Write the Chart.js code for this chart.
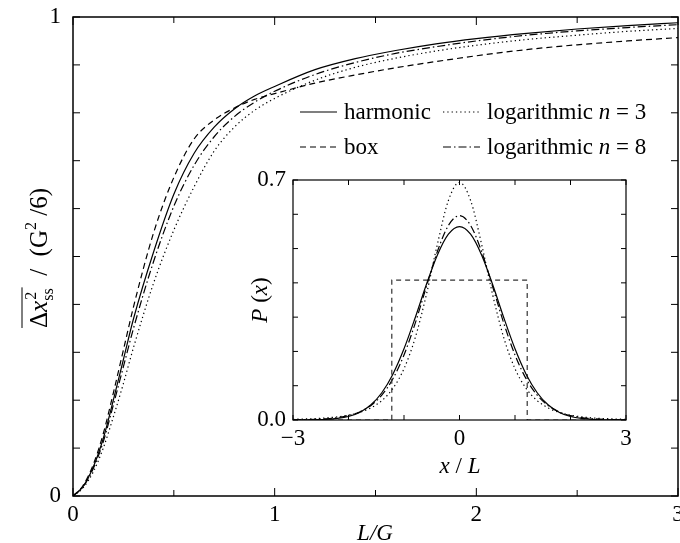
<!DOCTYPE html>
<html>
<head>
<meta charset="utf-8">
<script src="https://cdn.jsdelivr.net/npm/chart.js@4"></script>
<style>
  html, body { margin: 0; padding: 0; background: #fff; }
  #wrap { position: relative; width: 680px; height: 543px; }
  #main { position: absolute; left: 0; top: 0; width: 680px; height: 543px; }
  #inset { position: absolute; left: 230px; top: 160px; width: 420px; height: 320px; }
</style>
</head>
<body>
<div id="wrap">
  <canvas id="main" width="680" height="543"></canvas>
  <canvas id="inset" width="420" height="320"></canvas>
</div>
<script>
// main panel: L/G on x
const lg = [0, 0.05, 0.1, 0.15, 0.2, 0.25, 0.3, 0.4, 0.5, 0.6, 0.7, 0.8, 0.9, 1.0, 1.2, 1.4, 1.6, 1.8, 2.0, 2.25, 2.5, 2.75, 3.0];
const harmonic = [0, 0.02, 0.06, 0.12, 0.2, 0.285, 0.37, 0.51, 0.63, 0.715, 0.77, 0.808, 0.835, 0.855, 0.89, 0.913, 0.93, 0.944, 0.955, 0.966, 0.975, 0.982, 0.988];
const box = [0, 0.022, 0.065, 0.13, 0.215, 0.305, 0.395, 0.55, 0.665, 0.745, 0.785, 0.81, 0.828, 0.84, 0.862, 0.879, 0.894, 0.907, 0.919, 0.932, 0.942, 0.95, 0.957];
const log3 = [0, 0.017, 0.05, 0.1, 0.165, 0.235, 0.31, 0.445, 0.555, 0.645, 0.72, 0.77, 0.805, 0.83, 0.868, 0.895, 0.914, 0.929, 0.941, 0.953, 0.962, 0.97, 0.976];
const log8 = [0, 0.019, 0.057, 0.113, 0.19, 0.27, 0.35, 0.49, 0.605, 0.69, 0.75, 0.792, 0.822, 0.845, 0.88, 0.905, 0.924, 0.938, 0.95, 0.962, 0.971, 0.978, 0.984];

// inset: P(x) against x/L
const xL = [-3, -2.8, -2.6, -2.4, -2.2, -2, -1.8, -1.6, -1.4, -1.2, -1, -0.8, -0.6, -0.4, -0.2, 0, 0.2, 0.4, 0.6, 0.8, 1, 1.2, 1.4, 1.6, 1.8, 2, 2.2, 2.4, 2.6, 2.8, 3];
const pHarmonic = [0.0001, 0.0002, 0.0007, 0.0018, 0.0045, 0.0103, 0.0221, 0.0436, 0.0795, 0.1337, 0.2076, 0.2975, 0.3936, 0.4808, 0.5421, 0.5642, 0.5421, 0.4808, 0.3936, 0.2975, 0.2076, 0.1337, 0.0795, 0.0436, 0.0221, 0.0103, 0.0045, 0.0018, 0.0007, 0.0002, 0.0001];
const pLog3 = [0.0020, 0.0029, 0.0042, 0.0061, 0.0092, 0.0141, 0.0220, 0.0349, 0.0565, 0.0920, 0.1497, 0.2387, 0.3635, 0.5113, 0.6404, 0.6930, 0.6404, 0.5113, 0.3635, 0.2387, 0.1497, 0.0920, 0.0565, 0.0349, 0.0220, 0.0141, 0.0092, 0.0061, 0.0042, 0.0029, 0.0020];
const pLog8 = [0.0006, 0.0011, 0.0020, 0.0037, 0.0069, 0.0129, 0.0234, 0.0418, 0.0724, 0.1202, 0.1897, 0.2812, 0.3872, 0.4906, 0.5674, 0.5960, 0.5674, 0.4906, 0.3872, 0.2812, 0.1897, 0.1202, 0.0724, 0.0418, 0.0234, 0.0129, 0.0069, 0.0037, 0.0020, 0.0011, 0.0006];
const boxX = [-3, -1.22, -1.22, 1.22, 1.22, 3];
const boxP = [0, 0, 0.408, 0.408, 0, 0];

const FONT = '"Liberation Serif", "Times New Roman", serif';
const FS = 23;
const DASH = { harmonic: [], box: [6, 4], log3: [1.3, 3], log8: [8, 3, 1.5, 3] };

const pts = (xs, ys) => xs.map((x, i) => ({ x: x, y: ys[i] }));

const line = (label, data, dash, color, smooth) => ({
  label: label,
  data: data,
  showLine: true,
  borderColor: color,
  borderWidth: 1.2,
  borderDash: dash,
  pointRadius: 0,
  fill: false,
  cubicInterpolationMode: smooth ? "monotone" : "default",
  tension: 0,
});

// frame on all four sides with inward ticks
const frameTicks = {
  id: "frameTicks",
  afterDatasetsDraw(chart, args, opts) {
    const { ctx, chartArea: a } = chart;
    const x = chart.scales.x, y = chart.scales.y;
    ctx.save();
    ctx.strokeStyle = "#000";
    ctx.lineWidth = opts.frameWidth;
    ctx.strokeRect(a.left, a.top, a.right - a.left, a.bottom - a.top);
    ctx.lineWidth = 1;
    ctx.beginPath();
    x.ticks.forEach((t) => {
      const px = x.getPixelForValue(t.value);
      const r = t.value / opts.xMajor;
      const len = Math.abs(r - Math.round(r)) < 1e-6 ? opts.major : opts.minor;
      ctx.moveTo(px, a.bottom); ctx.lineTo(px, a.bottom - len);
      ctx.moveTo(px, a.top); ctx.lineTo(px, a.top + len);
    });
    y.ticks.forEach((t) => {
      const py = y.getPixelForValue(t.value);
      ctx.moveTo(a.left, py); ctx.lineTo(a.left + opts.yLen, py);
      ctx.moveTo(a.right, py); ctx.lineTo(a.right - opts.yLen, py);
    });
    ctx.stroke();
    ctx.restore();
  },
};

// draws pieces of text one after another: [text, font, dy]
function drawPieces(ctx, pieces, x, y, align) {
  let w = 0;
  pieces.forEach((p) => { ctx.font = p[1]; w += ctx.measureText(p[0]).width; });
  let cx = align === "center" ? x - w / 2 : x;
  pieces.forEach((p) => {
    ctx.font = p[1];
    ctx.fillText(p[0], cx, y + (p[2] || 0));
    cx += ctx.measureText(p[0]).width;
  });
  return w;
}

const mainTexts = {
  id: "mainTexts",
  afterDraw(chart) {
    const ctx = chart.ctx;
    const reg = FS + "px " + FONT, ital = "italic " + FS + "px " + FONT;
    const treg = "25px " + FONT, tital = "italic 25px " + FONT, small = "16px " + FONT;
    ctx.save();
    ctx.fillStyle = "#000";
    ctx.textBaseline = "alphabetic";
    ctx.textAlign = "left";

    // x title
    drawPieces(ctx, [["L/G", ital]], 375, 540, "center");

    // y title, rotated
    ctx.save();
    ctx.translate(47, 258);
    ctx.rotate(-Math.PI / 2);
    ctx.font = treg;
    const wD = ctx.measureText("Δ").width;
    ctx.font = tital;
    const wx = ctx.measureText("x").width;
    ctx.font = small;
    const wSup = Math.max(ctx.measureText("2").width, ctx.measureText("ss").width);
    ctx.font = treg;
    const wRest1 = ctx.measureText("  /  (G").width;
    ctx.font = small;
    const w2 = ctx.measureText("2").width;
    ctx.font = treg;
    const wRest2 = ctx.measureText(" /6)").width;
    const total = wD + wx + wSup + wRest1 + w2 + wRest2;
    let u = -total / 2;
    ctx.font = treg; ctx.fillText("Δ", u, 0); u += wD;
    ctx.font = tital; ctx.fillText("x", u, 0); u += wx;
    ctx.font = small; ctx.fillText("2", u + 1, -11); ctx.fillText("ss", u, 6); u += wSup;
    const overEnd = u + 1;
    ctx.font = treg; ctx.fillText("  /  (G", u, 0); u += wRest1;
    ctx.font = small; ctx.fillText("2", u, -11); u += w2;
    ctx.font = treg; ctx.fillText(" /6)", u, 0);
    ctx.lineWidth = 1;
    ctx.beginPath();
    ctx.moveTo(-total / 2, -25);
    ctx.lineTo(overEnd, -25);
    ctx.stroke();
    ctx.restore();

    // legend
    const rows = [
      [300, 112, DASH.harmonic, [["harmonic", reg]]],
      [300, 147, DASH.box, [["box", reg]]],
      [443, 112, DASH.log3, [["logarithmic ", reg], ["n", ital], [" = 3", reg]]],
      [443, 147, DASH.log8, [["logarithmic ", reg], ["n", ital], [" = 8", reg]]],
    ];
    rows.forEach((r) => {
      ctx.save();
      ctx.lineWidth = 1.2;
      ctx.setLineDash(r[2]);
      ctx.beginPath();
      ctx.moveTo(r[0], r[1]);
      ctx.lineTo(r[0] + 37, r[1]);
      ctx.stroke();
      ctx.restore();
      drawPieces(ctx, r[3], r[0] + 44, r[1] + 7, "left");
    });
    ctx.restore();
  },
};

const insetTexts = {
  id: "insetTexts",
  afterDraw(chart) {
    const ctx = chart.ctx;
    const reg = FS + "px " + FONT, ital = "italic " + FS + "px " + FONT;
    ctx.save();
    ctx.fillStyle = "#000";
    ctx.textBaseline = "alphabetic";
    drawPieces(ctx, [["x", ital], [" / ", reg], ["L", ital]], 230, 313, "center");
    ctx.translate(37, 140);
    ctx.rotate(-Math.PI / 2);
    drawPieces(ctx, [["P", ital], [" (", reg], ["x", ital], [")", reg]], 0, 0, "center");
    ctx.restore();
  },
};

const fixWidth = (w) => (scale) => { scale.width = w; scale.paddingTop = 0; scale.paddingBottom = 0; };
const fixHeight = (h) => (scale) => { scale.height = h; scale.paddingLeft = 0; scale.paddingRight = 0; };

new Chart(document.getElementById("main"), {
  type: "scatter",
  data: {
    datasets: [
      line("harmonic", pts(lg, harmonic), DASH.harmonic, "#000", true),
      line("box", pts(lg, box), DASH.box, "#000", true),
      line("logarithmic n = 3", pts(lg, log3), DASH.log3, "#000", true),
      line("logarithmic n = 8", pts(lg, log8), DASH.log8, "#000", true),
    ],
  },
  options: {
    responsive: false,
    animation: false,
    events: [],
    layout: { padding: { top: 17, right: 2, left: 0, bottom: 0 } },
    plugins: {
      legend: { display: false },
      tooltip: { enabled: false },
      frameTicks: { frameWidth: 1.5, xMajor: 1, major: 8, minor: 6, yLen: 7 },
    },
    scales: {
      x: {
        type: "linear", min: 0, max: 3,
        grid: { display: false, drawTicks: false },
        border: { display: false },
        afterFit: fixHeight(47),
        ticks: {
          stepSize: 0.5, autoSkip: false, maxRotation: 0, padding: 5,
          color: "#000", font: { family: FONT, size: FS },
          callback: (v) => (Math.abs(v - Math.round(v)) < 1e-6 ? String(Math.round(v)) : ""),
        },
      },
      y: {
        type: "linear", min: 0, max: 1,
        grid: { display: false, drawTicks: false },
        border: { display: false },
        afterFit: fixWidth(73),
        ticks: {
          stepSize: 0.1, autoSkip: false, padding: 12,
          color: "#000", font: { family: FONT, size: FS },
          callback: (v) => (Math.abs(v) < 1e-6 ? "0" : Math.abs(v - 1) < 1e-6 ? "1" : ""),
        },
      },
    },
  },
  plugins: [frameTicks, mainTexts],
});

new Chart(document.getElementById("inset"), {
  type: "scatter",
  data: {
    datasets: [
      line("harmonic", pts(xL, pHarmonic), DASH.harmonic, "#000", true),
      line("box", pts(boxX, boxP), [5, 4], "#333", false),
      line("logarithmic n = 3", pts(xL, pLog3), DASH.log3, "#000", true),
      line("logarithmic n = 8", pts(xL, pLog8), DASH.log8, "#000", true),
    ],
  },
  options: {
    responsive: false,
    animation: false,
    events: [],
    layout: { padding: { top: 20, right: 24, left: 0, bottom: 0 } },
    plugins: {
      legend: { display: false },
      tooltip: { enabled: false },
      frameTicks: { frameWidth: 1.2, xMajor: 1, major: 5, minor: 5, yLen: 5 },
    },
    scales: {
      x: {
        type: "linear", min: -3, max: 3,
        grid: { display: false, drawTicks: false },
        border: { display: false },
        afterFit: fixHeight(60),
        ticks: {
          stepSize: 1, autoSkip: false, maxRotation: 0, padding: 5,
          color: "#000", font: { family: FONT, size: FS },
          callback: (v) => (v === -3 ? "\u22123" : v === 0 ? "0" : v === 3 ? "3" : ""),
        },
      },
      y: {
        type: "linear", min: 0, max: 0.7,
        grid: { display: false, drawTicks: false },
        border: { display: false },
        afterFit: fixWidth(63),
        ticks: {
          stepSize: 0.1, autoSkip: false, padding: 7,
          color: "#000", font: { family: FONT, size: FS },
          callback: (v) => (Math.abs(v) < 1e-6 ? "0.0" : Math.abs(v - 0.7) < 1e-6 ? "0.7" : ""),
        },
      },
    },
  },
  plugins: [frameTicks, insetTexts],
});
</script>
</body>
</html>
